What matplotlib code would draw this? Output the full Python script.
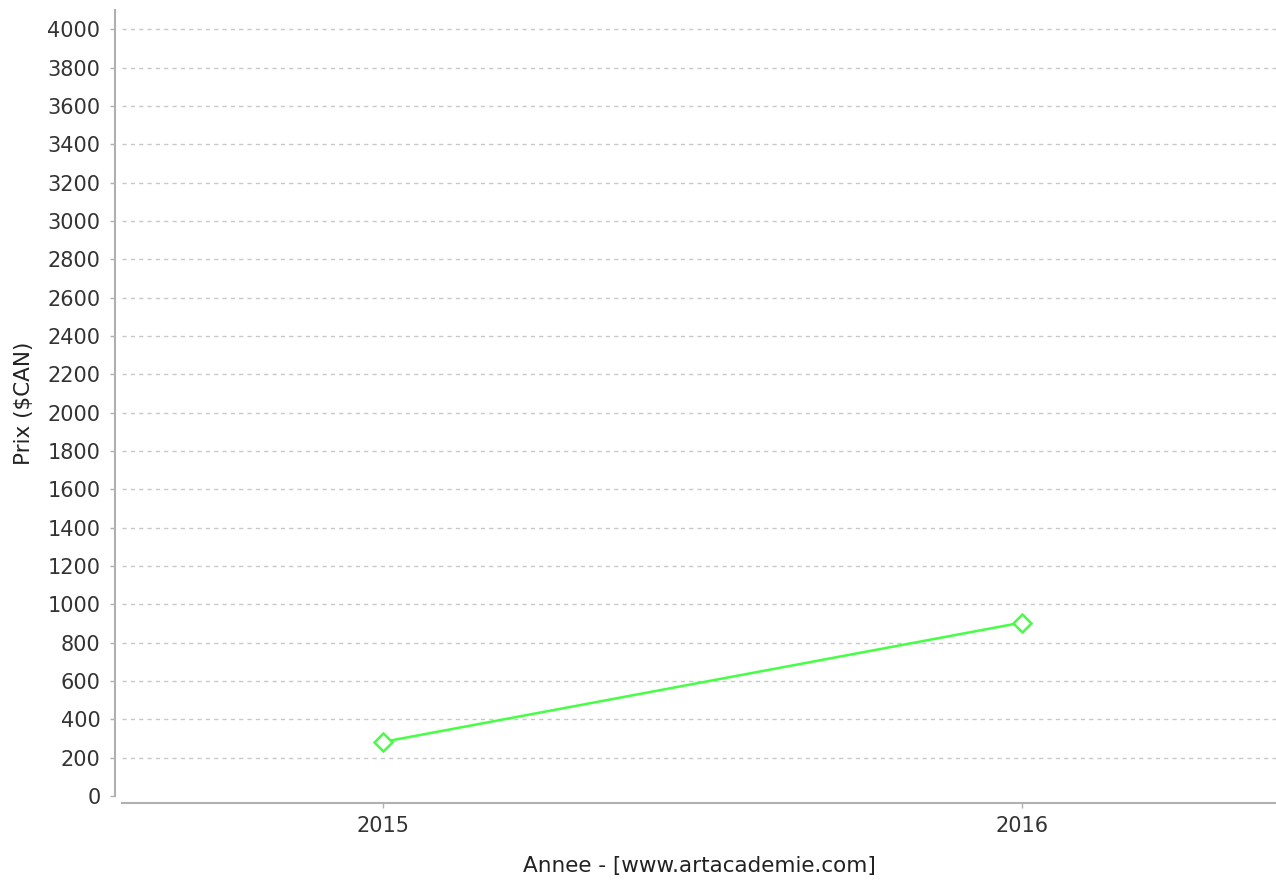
import matplotlib
matplotlib.use("Agg")
import matplotlib.pyplot as plt

years = [2015, 2016]
prices = [282, 905]
yticks = list(range(0, 4001, 200))

fig = plt.figure(figsize=(12.76, 8.82), dpi=100)
W, H = 1276, 882
left, right, top, bottom = 122, 1276, 10, 796
ax = fig.add_axes([left / W, 1 - bottom / H, (right - left) / W, (bottom - top) / H])

ax.plot(years, prices, color="#44ff44", lw=1.8, marker="D", markersize=9,
        markerfacecolor="white", markeredgecolor="#44ff44", markeredgewidth=1.8, zorder=3)

ax.set_xlim(2014.592, 2016.397)
ax.set_ylim(0, 4100)
ax.set_xticks(years)
ax.set_xticklabels([str(y) for y in years])
ax.set_yticks(yticks)

for s in ["top", "right"]:
    ax.spines[s].set_visible(False)
ax.spines["left"].set_position(("outward", 5))
ax.spines["bottom"].set_position(("outward", 5))
ax.spines["left"].set_color("#b0b0b0")
ax.spines["bottom"].set_color("#b0b0b0")
ax.spines["left"].set_linewidth(1.5)
ax.spines["bottom"].set_linewidth(1.5)
ax.spines["left"].set_bounds(0, 4100)

ax.tick_params(axis="both", colors="#b0b0b0", labelcolor="#333333", labelsize=15, length=3.5, width=1)
ax.tick_params(axis="y", pad=7)
ax.tick_params(axis="x", pad=6)

ax.yaxis.grid(True, color="#c8c8c8", linestyle=(0, (3, 3)), linewidth=1)
ax.yaxis.get_gridlines()[0].set_visible(False)
ax.set_axisbelow(True)

ax.set_ylabel("Prix ($CAN)", fontsize=15.5, color="#222222")
ax.set_xlabel("Annee - [www.artacademie.com]", fontsize=15.5, color="#222222")
ax.yaxis.label.set_va("center")
ax.xaxis.label.set_va("center")
ax.yaxis.set_label_coords((24 - left) / (right - left), 0.5)
ax.xaxis.set_label_coords(0.5, (bottom - 866) / (bottom - top))

fig.savefig("out.png", dpi=100)
